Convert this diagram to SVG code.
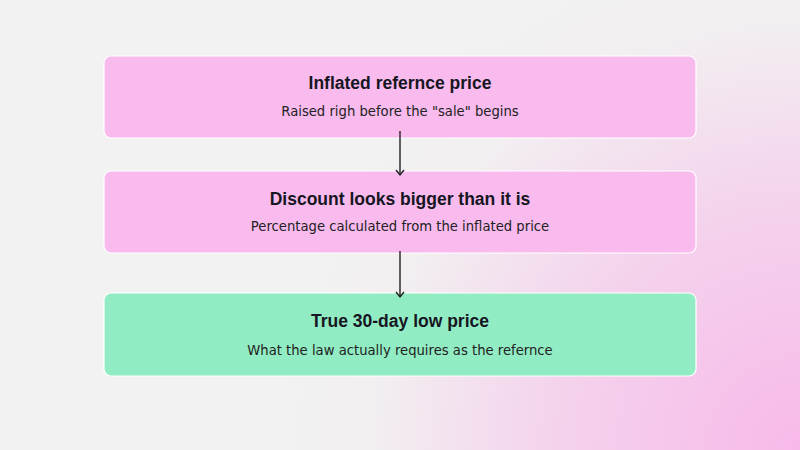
<svg xmlns="http://www.w3.org/2000/svg" width="800" height="450" viewBox="0 0 800 450">
<defs>
<radialGradient id="bg" cx="800" cy="450" r="540" gradientUnits="userSpaceOnUse">
<stop offset="0" stop-color="#f8b9ea"/>
<stop offset="0.45" stop-color="#f4d2ec"/>
<stop offset="0.8" stop-color="#f2eff1"/>
<stop offset="1" stop-color="#f2f2f2"/>
</radialGradient>
<marker id="arr" markerWidth="10" markerHeight="10" refX="8.5" refY="5" orient="auto" markerUnits="userSpaceOnUse" viewBox="0 0 10 10">
<path d="M3.5 1 L8.5 5 L3.5 9" fill="none" stroke="#222" stroke-width="1.4"/>
</marker>
<style>
.box{stroke:#ffffff;stroke-width:1.2}
.pink{fill:#f9bbee}
.green{fill:#91ecc3}
.t{font-family:"Liberation Sans",Arial,sans-serif;font-weight:bold;font-size:17.5px;fill:#161622;text-anchor:middle}
.s{font-family:"DejaVu Sans",sans-serif;font-size:13.2px;fill:#222;text-anchor:middle}
.c{stroke:#222;stroke-width:1.4;fill:none}
</style>
</defs>
<rect width="800" height="450" fill="url(#bg)"/>
<g id="node1">
<rect class="box pink" x="104" y="56" width="592" height="82" rx="7"/>
<text class="t" x="400" y="89">Inflated refernce price</text>
<text class="s" x="400" y="116">Raised righ before the "sale" begins</text>
</g>
<g id="node2">
<rect class="box pink" x="104" y="171" width="592" height="82" rx="7"/>
<text class="t" x="400" y="205">Discount looks bigger than it is</text>
<text class="s" x="400" y="231">Percentage calculated from the inflated price</text>
</g>
<g id="node3">
<rect class="box green" x="104" y="293" width="592" height="83" rx="7"/>
<text class="t" x="400" y="327">True 30-day low price</text>
<text class="s" x="400" y="355">What the law actually requires as the refernce</text>
</g>
<g id="connectors">
<line class="c" x1="400" y1="131" x2="400" y2="175" marker-end="url(#arr)"/>
<line class="c" x1="400" y1="251" x2="400" y2="297" marker-end="url(#arr)"/>
</g>
</svg>
